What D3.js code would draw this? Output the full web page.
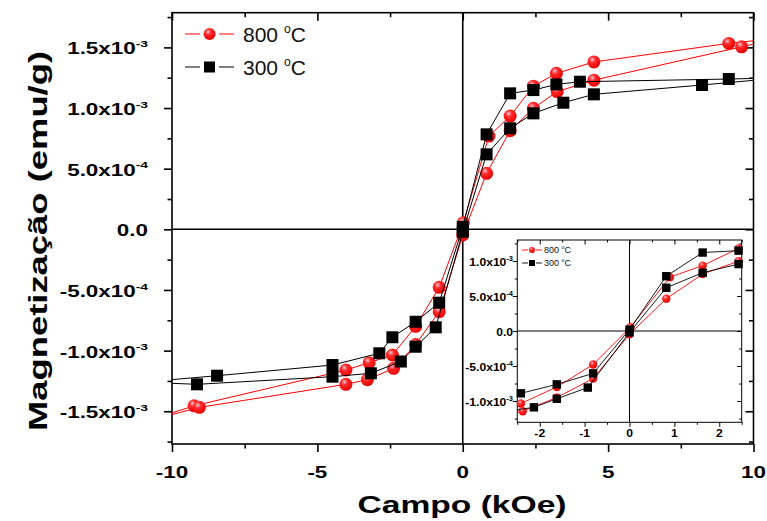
<!DOCTYPE html>
<html>
<head>
<meta charset="utf-8">
<script src="https://cdn.jsdelivr.net/npm/d3@7"></script>
<style>
  body { margin: 0; background: #fff; }
  svg { display: block; }
</style>
</head>
<body>
<div id="chart"></div>
<script>
// hysteresis loops, points in measuring order (field in kOe, magnetization in emu/g)
// first and last points are the loop tips, just outside the plotted +-10 kOe
const field800 = [11, 9.15, 4.51, 3.22, 2.43, 1.63, 0.90, 0.02, -0.81, -1.62, -2.42, -3.22, -4.02, -9.24,
                  -11, -9.06, -4.02, -3.28, -2.38, -1.62, -0.81, 0.0, 0.82, 1.63, 2.43, 3.25, 4.51, 9.59, 11];
const mag800 = [1.58e-3, 1.533e-3, 1.38e-3, 1.286e-3, 1.18e-3, 0.934e-3, 0.769e-3, 0.054e-3, -0.478e-3,
                -0.80e-3, -1.036e-3, -1.10e-3, -1.16e-3, -1.455e-3, -1.59e-3, -1.468e-3, -1.278e-3, -1.24e-3,
                -1.146e-3, -0.95e-3, -0.679e-3, -0.047e-3, 0.462e-3, 0.813e-3, 0.998e-3, 1.136e-3, 1.23e-3,
                1.505e-3, 1.58e-3];

const field300 = [11, 9.15, 4.03, 3.22, 2.43, 1.63, 0.82, 0.0, -0.81, -1.62, -2.42, -2.87, -4.48, -8.45,
                  -11, -9.14, -4.48, -3.16, -2.13, -1.62, -0.93, 0.0, 0.82, 1.63, 2.43, 3.46, 4.51, 8.23, 11];
const mag300 = [1.25e-3, 1.239e-3, 1.217e-3, 1.195e-3, 1.148e-3, 1.121e-3, 0.783e-3, 0.02e-3, -0.605e-3,
                -0.762e-3, -0.89e-3, -1.022e-3, -1.119e-3, -1.207e-3, -1.26e-3, -1.278e-3, -1.215e-3, -1.187e-3,
                -1.09e-3, -0.968e-3, -0.808e-3, -0.02e-3, 0.618e-3, 0.833e-3, 0.956e-3, 1.044e-3, 1.113e-3,
                1.19e-3, 1.25e-3];

const seriesNames = ['800 °C', '300 °C'];

const mainXTicks = [-10, -5, 0, 5, 10];
const mainXMinor = [-7.5, -2.5, 2.5, 7.5];
const mainYTicks = [-1.5e-3, -1.0e-3, -5.0e-4, 0, 5.0e-4, 1.0e-3, 1.5e-3];
const mainYMinor = [-1.75e-3, -1.25e-3, -7.5e-4, -2.5e-4, 2.5e-4, 7.5e-4, 1.25e-3, 1.75e-3];

const insetXTicks = [-2, -1, 0, 1, 2];
const insetXMinor = [-2.5, -1.5, -0.5, 0.5, 1.5, 2.5];
const insetYTicks = [-1.0e-3, -5.0e-4, 0, 5.0e-4, 1.0e-3];
const insetYMinor = [-1.25e-3, -7.5e-4, -2.5e-4, 2.5e-4, 7.5e-4, 1.25e-3];

const width = 767, height = 521;

const svg = d3.select('#chart').append('svg')
    .attr('width', width)
    .attr('height', height)
    .style('font-family', '"Liberation Sans", Arial, sans-serif');

const defs = svg.append('defs');
let ball = defs.append('radialGradient').attr('id', 'ball')
    .attr('cx', '38%').attr('cy', '32%').attr('r', '70%');
ball.append('stop').attr('offset', '0%').attr('stop-color', '#f2c4d2');
ball.append('stop').attr('offset', '35%').attr('stop-color', '#ff2b2b');
ball.append('stop').attr('offset', '100%').attr('stop-color', '#e80000');

const series = [
    {name: seriesNames[0], H: field800, M: mag800, color: '#ff0000', shape: 'circle'},
    {name: seriesNames[1], H: field300, M: mag300, color: '#000000', shape: 'square'}
];

// "1.5x10" + superscript "-3"
function sciParts(v) {
    if (v === 0) return {base: '0.0', sup: null};
    let e = Math.floor(Math.log10(Math.abs(v)) + 1e-9);
    let m = v / Math.pow(10, e);
    return {base: m.toFixed(1) + 'x10', sup: String(e)};
}

function addLabel(g, x, y, anchor, parts, size, sx, weight) {
    let t = g.append('g')
        .attr('transform', `translate(${x},${y}) scale(${sx},1)`)
        .append('text')
        .attr('text-anchor', anchor)
        .attr('font-weight', weight || 'bold')
        .attr('font-size', size)
        .attr('fill', '#000');
    t.append('tspan').text(parts.base);
    if (parts.sup) {
        t.append('tspan').attr('font-size', size * 0.62).attr('dy', -size * 0.45).text(parts.sup);
    }
}

function marker(g, shape, cx, cy, s) {
    if (shape === 'circle') {
        g.append('circle').attr('cx', cx).attr('cy', cy).attr('r', s)
            .attr('fill', 'url(#ball)');
    } else {
        g.append('rect').attr('x', cx - s).attr('y', cy - s)
            .attr('width', 2 * s).attr('height', 2 * s).attr('fill', '#000');
    }
}

function drawPanel(cfg) {
    let g = svg.append('g');
    let x = d3.scaleLinear().domain(cfg.xDomain).range([cfg.left, cfg.right]);
    let y = d3.scaleLinear().domain(cfg.yDomain).range([cfg.bottom, cfg.top]);

    if (cfg.background) {
        g.append('rect').attr('x', cfg.left).attr('y', cfg.top)
            .attr('width', cfg.right - cfg.left).attr('height', cfg.bottom - cfg.top)
            .attr('fill', '#fff');
    }

    defs.append('clipPath').attr('id', cfg.id)
        .append('rect').attr('x', cfg.left).attr('y', cfg.top)
        .attr('width', cfg.right - cfg.left).attr('height', cfg.bottom - cfg.top);

    // axes: outward on bottom/left, mirrored inward on top/right
    let noDomain = sel => sel.select('.domain').remove();
    let axes = [
        [d3.axisBottom(x).tickValues(cfg.xTicks).tickSize(cfg.major), `translate(0,${cfg.bottom})`],
        [d3.axisBottom(x).tickValues(cfg.xMinor).tickSize(cfg.minor), `translate(0,${cfg.bottom})`],
        [d3.axisTop(x).tickValues(cfg.xTicks).tickSize(-cfg.major), `translate(0,${cfg.top})`],
        [d3.axisTop(x).tickValues(cfg.xMinor).tickSize(-cfg.minor), `translate(0,${cfg.top})`],
        [d3.axisLeft(y).tickValues(cfg.yTicks).tickSize(cfg.major), `translate(${cfg.left},0)`],
        [d3.axisLeft(y).tickValues(cfg.yMinor).tickSize(cfg.minor), `translate(${cfg.left},0)`],
        [d3.axisRight(y).tickValues(cfg.yTicks).tickSize(-cfg.major), `translate(${cfg.right},0)`],
        [d3.axisRight(y).tickValues(cfg.yMinor).tickSize(-cfg.minor), `translate(${cfg.right},0)`]
    ];
    axes.forEach(a => {
        g.append('g').attr('transform', a[1])
            .call(a[0].tickFormat(''))
            .call(noDomain)
            .selectAll('line').attr('stroke', '#000').attr('stroke-width', cfg.stroke);
    });

    // frame
    g.append('rect').attr('x', cfg.left).attr('y', cfg.top)
        .attr('width', cfg.right - cfg.left).attr('height', cfg.bottom - cfg.top)
        .attr('fill', 'none').attr('stroke', '#000').attr('stroke-width', cfg.stroke);

    // zero lines
    g.append('line').attr('x1', x(0)).attr('x2', x(0)).attr('y1', cfg.top).attr('y2', cfg.bottom)
        .attr('stroke', '#000').attr('stroke-width', cfg.zeroStroke);
    g.append('line').attr('x1', cfg.left).attr('x2', cfg.right).attr('y1', y(0)).attr('y2', y(0))
        .attr('stroke', '#000').attr('stroke-width', cfg.zeroStroke);

    // tick labels
    cfg.xTicks.forEach(v => addLabel(g, x(v), cfg.xLabelY, 'middle', {base: String(v), sup: null},
        cfg.tickFont, cfg.stretch));
    cfg.yTicks.forEach(v => addLabel(g, cfg.yLabelX, y(v) + cfg.yLabelDy, 'end', sciParts(v),
        cfg.tickFont, cfg.stretch));

    // data
    let line = d3.line().x(d => x(d[0])).y(d => y(d[1]));
    series.forEach(s => {
        let pts = s.H.map((h, i) => [h, s.M[i]]);
        g.append('path').datum(pts)
            .attr('clip-path', `url(#${cfg.id})`)
            .attr('d', line)
            .attr('fill', 'none')
            .attr('stroke', s.color)
            .attr('stroke-width', cfg.lineWidth);
        let mg = g.append('g');
        pts.filter(p => p[0] >= cfg.xDomain[0] && p[0] <= cfg.xDomain[1] &&
                        p[1] >= cfg.yDomain[0] && p[1] <= cfg.yDomain[1])
            .forEach(p => marker(mg, s.shape, x(p[0]), y(p[1]), s.shape === 'circle' ? cfg.circleR : cfg.squareS));
    });

    // legend
    let lg = cfg.legend;
    series.forEach((s, i) => {
        let ly = lg.y + i * lg.gap;
        g.append('line').attr('x1', lg.x).attr('x2', lg.x + lg.seg).attr('y1', ly).attr('y2', ly)
            .attr('stroke', s.color).attr('stroke-width', cfg.lineWidth);
        g.append('line').attr('x1', lg.x + lg.len - lg.seg).attr('x2', lg.x + lg.len).attr('y1', ly).attr('y2', ly)
            .attr('stroke', s.color).attr('stroke-width', cfg.lineWidth);
        marker(g, s.shape, lg.x + lg.len / 2, ly, s.shape === 'circle' ? lg.r : lg.s);
        let parts = s.name.split(' °');
        let t = g.append('text').attr('x', lg.x + lg.len + lg.pad).attr('y', ly + lg.font * 0.36)
            .attr('font-size', lg.font).attr('fill', '#111');
        t.append('tspan').text(parts[0] + ' ');
        t.append('tspan').attr('font-size', lg.font * 0.58).attr('dy', -lg.font * 0.42).text('o');
        t.append('tspan').attr('dy', lg.font * 0.42).text(parts[1]);
    });

    return {x: x, y: y};
}

// main plot
drawPanel({
    id: 'clipMain',
    left: 172, right: 753.5, top: 12.7, bottom: 444,
    xDomain: [-10, 10], yDomain: [-1.77e-3, 1.786e-3],
    xTicks: mainXTicks, xMinor: mainXMinor, yTicks: mainYTicks, yMinor: mainYMinor,
    major: 8, minor: 4.5, stroke: 1.6, zeroStroke: 1.6,
    tickFont: 16, stretch: 1.4, xLabelY: 478, yLabelX: 148, yLabelDy: 7,
    lineWidth: 1, circleR: 6.5, squareS: 6,
    legend: {x: 185, y: 34, gap: 33, len: 49, seg: 15, r: 6, s: 5.5, pad: 9, font: 21}
});

// axis titles
svg.append('g').attr('transform', 'translate(462,513) scale(1.4,1)')
    .append('text').attr('text-anchor', 'middle').attr('font-weight', 'bold')
    .attr('font-size', 24).text('Campo (kOe)');
svg.append('g').attr('transform', 'translate(47,241) rotate(-90) scale(1.4,1)')
    .append('text').attr('text-anchor', 'middle').attr('font-weight', 'bold')
    .attr('font-size', 26).text('Magnetização (emu/g)');

// inset zoom around the origin
drawPanel({
    id: 'clipInset', background: true,
    left: 517.3, right: 741.7, top: 240, bottom: 422.3,
    xDomain: [-2.5, 2.5], yDomain: [-1.304e-3, 1.3e-3],
    xTicks: insetXTicks, xMinor: insetXMinor, yTicks: insetYTicks, yMinor: insetYMinor,
    major: 4.5, minor: 2.5, stroke: 1, zeroStroke: 1,
    tickFont: 11, stretch: 1.1, xLabelY: 437, yLabelX: 513, yLabelDy: 4.5,
    lineWidth: 0.9, circleR: 4.2, squareS: 4.2,
    legend: {x: 522, y: 250, gap: 13, len: 20, seg: 6, r: 3, s: 3, pad: 2, font: 9}
});
</script>
</body>
</html>
